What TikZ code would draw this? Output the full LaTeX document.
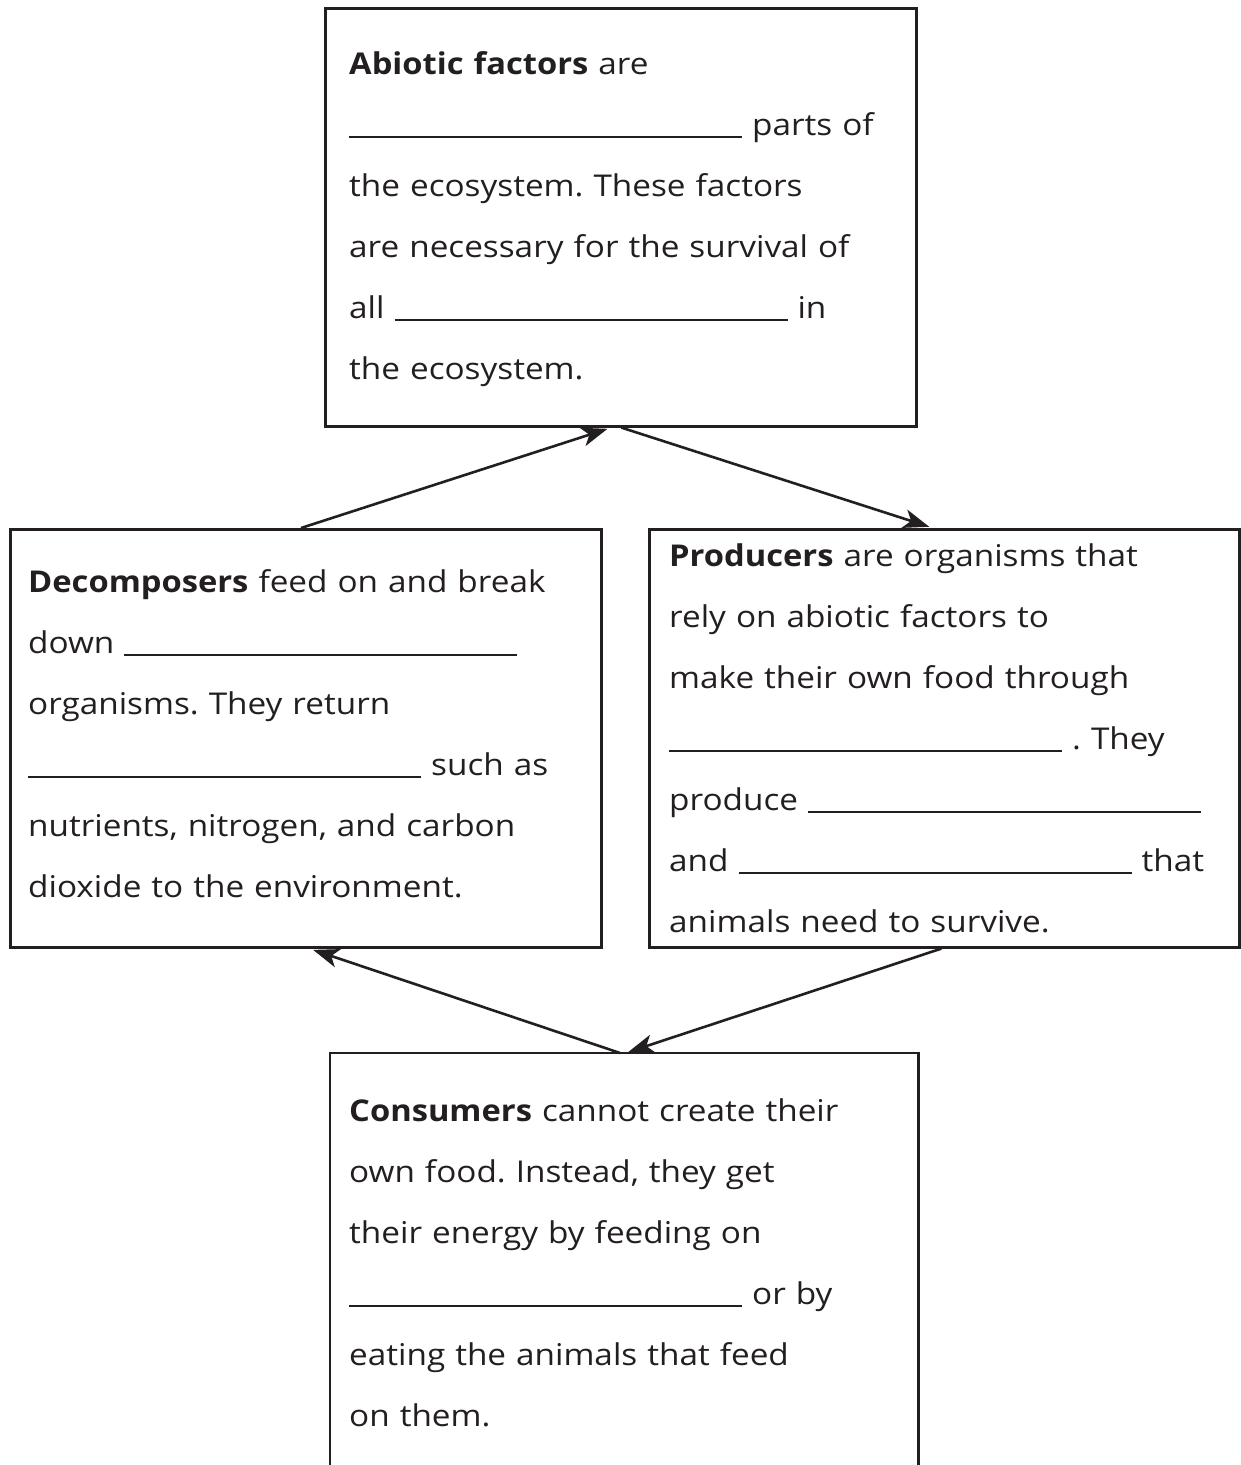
\documentclass[tikz,border=0pt]{standalone}
\usepackage{fontspec}
\setmainfont{Open Sans}[FakeStretch=1.11,BoldFeatures={FakeStretch=1.09}]
\usetikzlibrary{arrows.meta,calc}
\definecolor{ink}{HTML}{231F20}
\newcommand\blank{\rule[-2.5pt]{393pt}{2pt}}
\begin{document}
\frenchspacing
\begin{tikzpicture}[x=1pt,y=-1pt,
  boxline/.style={draw=ink,line width=2.6pt},
  frame/.style={boxline,inner sep=0pt,anchor=north west},
  txt/.style={text=ink,font=\fontsize{30}{61}\selectfont,align=left,text width=580pt,inner sep=0pt,anchor=base west},
  conn/.style={draw=ink,line width=2.6pt,-{Stealth[length=26pt,width=19pt,inset=7pt]}}]
\useasboundingbox[fill=white] (0,0) rectangle (1241,1465);
% boxes
\node[frame,minimum width=591pt,minimum height=418pt] (abio) at (324,7) {};
\node[frame,minimum width=591pt,minimum height=418pt] (dec) at (9,528) {};
\node[frame,minimum width=590pt,minimum height=418pt] (prod) at (648,528) {};
\node[inner sep=0pt,anchor=north west,minimum width=588pt,minimum height=430pt] (cons) at (330,1053) {};
\draw[boxline] (cons.south west) -- (cons.north west) -- (cons.north east) -- (cons.south east);
% texts
\node[txt] (abiot) at (349,74) {\textbf{Abiotic factors} are\\
\blank{} parts of\\
the ecosystem. These factors\\
are necessary for the survival of\\
all \blank{} in\\
the ecosystem.};
\node[txt] (dect) at (28,592) {\textbf{Decomposers} feed on and break\\
down \blank\\
organisms. They return\\
\blank{} such as\\
nutrients, nitrogen, and carbon\\
dioxide to the environment.};
\node[txt] (prodt) at (669,566) {\textbf{Producers} are organisms that\\
rely on abiotic factors to\\
make their own food through\\
\blank{} . They\\
produce \blank\\
and \blank{} that\\
animals need to survive.};
\node[txt] (const) at (349,1121) {\textbf{Consumers} cannot create their\\
own food. Instead, they get\\
their energy by feeding on\\
\blank{} or by\\
eating the animals that feed\\
on them.};
% connectors
\draw[conn,shorten >=4pt] ($(dec.north west)!0.492!(dec.north east)$) -- ($(abio.south west)!0.484!(abio.south east)$);
\draw[conn,shorten >=4pt] ($(abio.south west)!0.501!(abio.south east)$) -- ($(prod.north west)!0.481!(prod.north east)$);
\draw[conn,shorten >=3pt] ($(prod.south west)!0.495!(prod.south east)$) -- ($(cons.north west)!0.502!(cons.north east)$);
\draw[conn,shorten >=4pt] ($(cons.north west)!0.493!(cons.north east)$) -- ($(dec.south west)!0.506!(dec.south east)$);
\end{tikzpicture}
\end{document}
